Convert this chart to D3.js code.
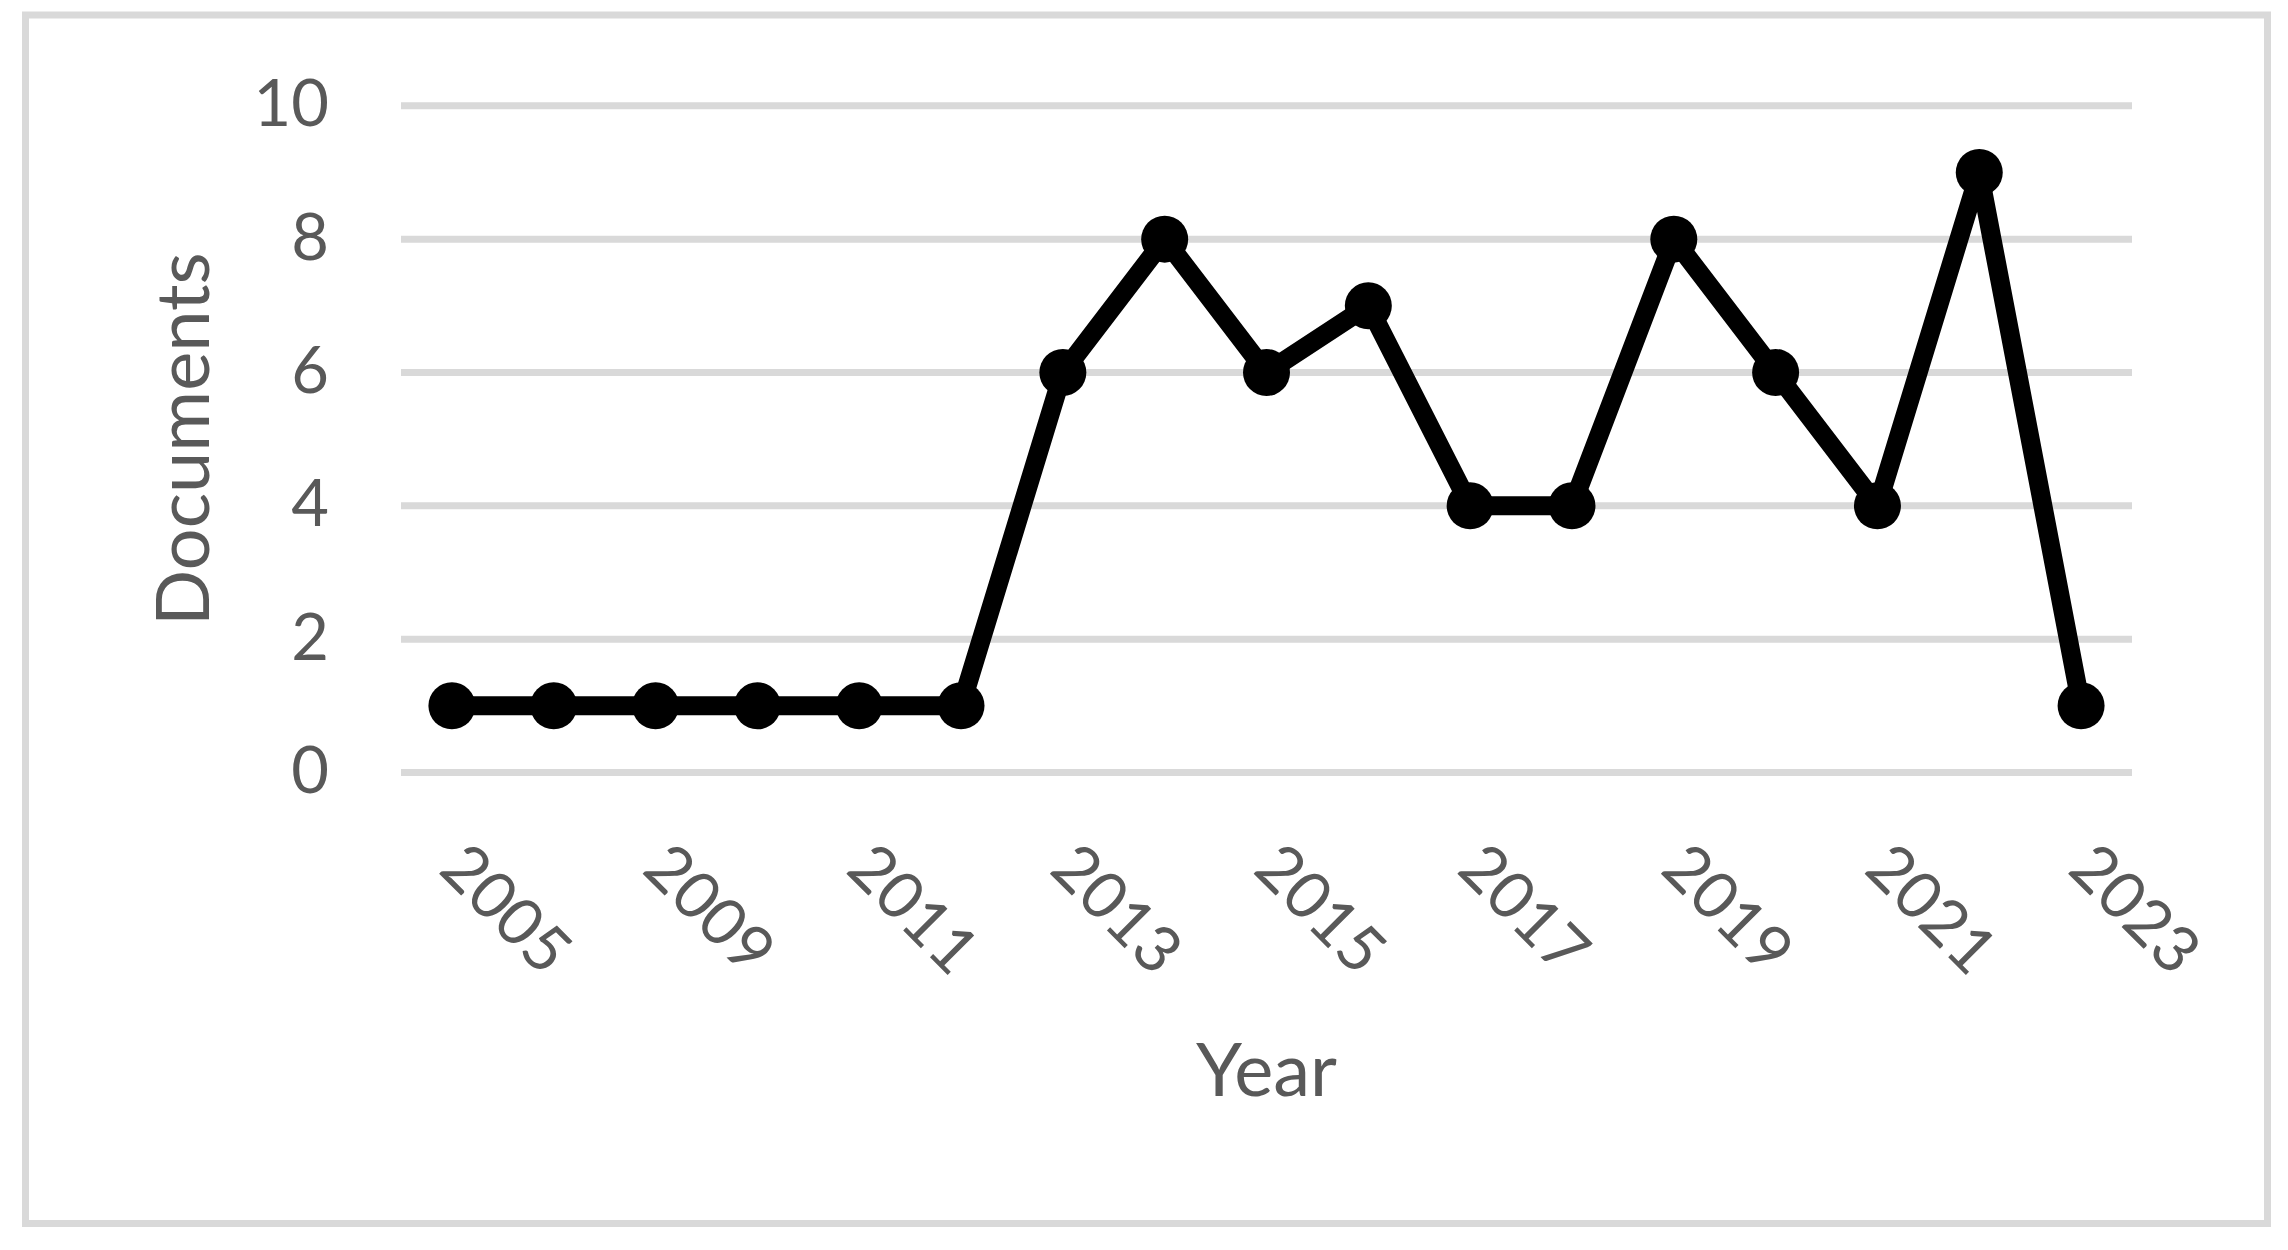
<!DOCTYPE html>
<html>
<head>
<meta charset="utf-8">
<script src="https://cdn.jsdelivr.net/npm/d3@7"></script>
<style>
  html, body { margin: 0; padding: 0; background: #fff; }
  svg { display: block; }
  text { font-family: Lato, "Open Sans", sans-serif; fill: #595959; }
</style>
</head>
<body>
<svg id="chart" width="2288" height="1250"></svg>
<script>
const years = ["2005","2008","2009","2010","2011","2012","2013","2014","2015","2016","2017","2018","2019","2020","2021","2022","2023"];
const documents = [1,1,1,1,1,1,6,8,6,7,4,4,8,6,4,9,1];
const yTicks = [0,2,4,6,8,10];
const xLabelYears = ["2005","2009","2011","2013","2015","2017","2019","2021","2023"];

const svg = d3.select("#chart");
const W = 2288, H = 1250;
const plot = { left: 401, right: 2132, top: 105.8, bottom: 772.5 };

svg.append("rect").attr("x", 25.5).attr("y", 15).attr("width", 2242).attr("height", 1208.5)
  .attr("fill", "#fff").attr("stroke", "#d9d9d9").attr("stroke-width", 7);

const x = d3.scaleBand().domain(years).range([plot.left, plot.right]).padding(0);
const y = d3.scaleLinear().domain([0, 10]).range([plot.bottom, plot.top]);

// gridlines
svg.append("g").selectAll("line").data(yTicks).join("line")
  .attr("x1", plot.left).attr("x2", plot.right)
  .attr("y1", d => y(d)).attr("y2", d => y(d))
  .attr("stroke", "#d9d9d9").attr("stroke-width", 7);

// y axis
const yAxis = svg.append("g").attr("transform", `translate(${plot.left},0)`)
  .call(d3.axisLeft(y).tickValues(yTicks).tickSize(0).tickPadding(72).tickFormat(d3.format("d")));
yAxis.select(".domain").remove();
yAxis.selectAll("text").style("font-family", "Lato, sans-serif").style("font-size", "65px")
  .attr("fill", "#595959").attr("dy", "0.34em").attr("y", -2);

// x axis
const xAxis = svg.append("g").attr("transform", `translate(0,${plot.bottom})`)
  .call(d3.axisBottom(x).tickValues(xLabelYears).tickSize(0));
xAxis.select(".domain").remove();
xAxis.selectAll("text").style("font-family", "Lato, sans-serif").style("font-size", "65px")
  .attr("fill", "#595959").attr("y", 0).attr("dy", 0)
  .attr("text-anchor", "start")
  .attr("transform", "translate(-15,99) rotate(45)");

// axis titles
svg.append("text").attr("x", (plot.left + plot.right) / 2).attr("y", 1096)
  .attr("text-anchor", "middle").style("font-size", "74px").text("Year");
svg.append("text").attr("transform", `translate(209,${(plot.top + plot.bottom) / 2}) rotate(-90)`)
  .attr("text-anchor", "middle").style("font-size", "74px").text("Documents");

// line
const cx = d => x(d) + x.bandwidth() / 2;
const line = d3.line().x((d, i) => cx(years[i])).y(d => y(d));
svg.append("path").datum(documents).attr("d", line)
  .attr("fill", "none").attr("stroke", "#000").attr("stroke-width", 19)
  .attr("stroke-linejoin", "round");

svg.append("g").selectAll("circle").data(documents).join("circle")
  .attr("cx", (d, i) => cx(years[i])).attr("cy", d => y(d)).attr("r", 23.5).attr("fill", "#000");
</script>
</body>
</html>
